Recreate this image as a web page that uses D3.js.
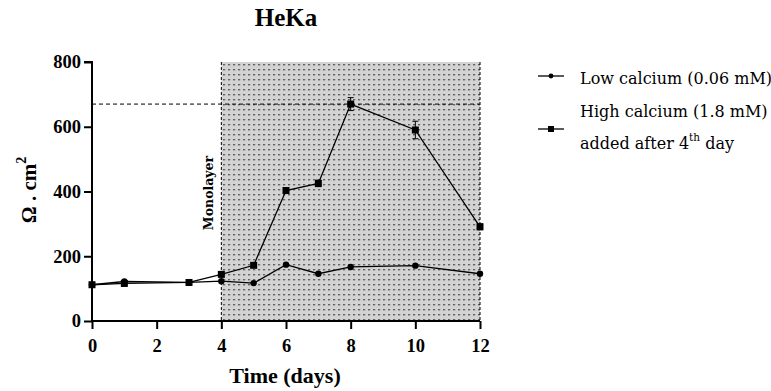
<!DOCTYPE html>
<html>
<head>
<meta charset="utf-8">
<script src="https://cdn.jsdelivr.net/npm/d3@7"></script>
<style>
  body { margin: 0; background: #fff; }
  svg { display: block; }
  text { font-family: "Liberation Serif", "DejaVu Serif", serif; }
  .wide { font-family: "DejaVu Serif", "Liberation Serif", serif; }
</style>
</head>
<body>
<svg id="chart" width="771" height="391"></svg>
<script>
// Transepithelial resistance of HeKa cells over time
const days = [0, 1, 3, 4, 5, 6, 7, 8, 10, 12];
const lowCalcium = [112, 122, 119, 123, 117, 174, 146, 167, 171, 146];
const highCalcium = [112, 116, 119, 144, 172, 403, 425, 670, 590, 291];
const highCalciumErr = [3, 4, 3, 5, 5, 6, 10, 20, 27, 9];
const xTicks = [0, 2, 4, 6, 8, 10, 12];
const yTicks = [0, 200, 400, 600, 800];
const monolayerSpan = [4, 12];
const plateau = 670;

const svg = d3.select("#chart");
const x = d3.scaleLinear().domain([0, 12]).range([92, 480]);
const y = d3.scaleLinear().domain([0, 800]).range([321, 62]);

// dotted fill for the monolayer period
const defs = svg.append("defs");
const pat = defs.append("pattern").attr("id", "dots")
  .attr("patternUnits", "userSpaceOnUse").attr("width", 5).attr("height", 5)
  .attr("x", x(4) + 2).attr("y", y(800) + 2);
pat.append("rect").attr("width", 5).attr("height", 5).attr("fill", "#d3d3d3");
pat.append("rect").attr("x", 0).attr("y", 0).attr("width", 1.4).attr("height", 1.4).attr("fill", "#222");

svg.append("rect")
  .attr("x", x(monolayerSpan[0])).attr("y", y(800))
  .attr("width", x(monolayerSpan[1]) - x(monolayerSpan[0]))
  .attr("height", y(0) - y(800))
  .attr("fill", "url(#dots)");
monolayerSpan.forEach(d => {
  svg.append("line")
    .attr("x1", x(d)).attr("x2", x(d)).attr("y1", y(800)).attr("y2", y(0))
    .attr("stroke", "#000").attr("stroke-width", 1).attr("stroke-dasharray", "3,2");
});

// plateau reference line
svg.append("line")
  .attr("x1", x(0)).attr("x2", x(12)).attr("y1", y(plateau)).attr("y2", y(plateau))
  .attr("stroke", "#000").attr("stroke-width", 1).attr("stroke-dasharray", "4,3");

svg.append("text").attr("class", "wide")
  .attr("transform", `translate(${x(4) - 8},${193}) rotate(-90)`)
  .attr("text-anchor", "middle").attr("font-size", 12.5).attr("font-weight", "bold")
  .text("Monolayer");

// axes
const xAxis = svg.append("g").attr("transform", `translate(0,${y(0)})`)
  .call(d3.axisBottom(x).tickValues(xTicks).tickSize(8).tickPadding(10).tickFormat(d3.format("d")));
const yAxis = svg.append("g").attr("transform", `translate(${x(0)},0)`)
  .call(d3.axisLeft(y).tickValues(yTicks).tickSize(8).tickPadding(3).tickFormat(d3.format("d")));
[xAxis, yAxis].forEach(g => {
  g.select(".domain").attr("stroke-width", 2);
  g.selectAll(".tick line").attr("stroke-width", 2);
  g.selectAll(".tick text").attr("font-size", 18.5).attr("font-weight", "bold")
    .attr("font-family", "Liberation Serif, serif").attr("fill", "#000");
});
yAxis.select(".domain").attr("d", `M-8,${y(800)}H0V${y(0)}`);
xAxis.select(".domain").attr("d", `M${x(0)},0H${x(12)}`);

// series
const line = d3.line().x((d, i) => x(days[i])).y(d => y(d));
svg.append("path").datum(lowCalcium).attr("d", line)
  .attr("fill", "none").attr("stroke", "#000").attr("stroke-width", 1.3);
svg.append("path").datum(highCalcium).attr("d", line)
  .attr("fill", "none").attr("stroke", "#000").attr("stroke-width", 1.3);

// error bars on high-calcium points
const eb = svg.append("g");
highCalcium.forEach((v, i) => {
  const e = highCalciumErr[i];
  const cx = x(days[i]);
  eb.append("line").attr("x1", cx).attr("x2", cx).attr("y1", y(v + e)).attr("y2", y(v - e))
    .attr("stroke", "#000").attr("stroke-width", 1);
  [v + e, v - e].forEach(w => eb.append("line")
    .attr("x1", cx - 3).attr("x2", cx + 3).attr("y1", y(w)).attr("y2", y(w))
    .attr("stroke", "#000").attr("stroke-width", 1));
});

svg.append("g").selectAll("circle").data(lowCalcium).join("circle")
  .attr("cx", (d, i) => x(days[i])).attr("cy", d => y(d)).attr("r", 3.2).attr("fill", "#000");
svg.append("g").selectAll("rect").data(highCalcium).join("rect")
  .attr("x", (d, i) => x(days[i]) - 3.5).attr("y", d => y(d) - 3.5)
  .attr("width", 7).attr("height", 7).attr("fill", "#000");

// titles
svg.append("text").attr("x", 286).attr("y", 26).attr("text-anchor", "middle")
  .attr("font-size", 25).attr("font-weight", "bold").text("HeKa");
svg.append("text").attr("x", 285).attr("y", 383).attr("text-anchor", "middle")
  .attr("font-size", 22).attr("font-weight", "bold").text("Time (days)");
const yl = svg.append("text")
  .attr("transform", `translate(36,${190}) rotate(-90)`)
  .attr("text-anchor", "middle").attr("font-size", 21).attr("font-weight", "bold");
yl.append("tspan").text("Ω . cm");
yl.append("tspan").attr("font-size", 14).attr("dy", -10).text("2");

// legend
const lg = svg.append("g").attr("class", "wide");
lg.append("line").attr("x1", 538).attr("x2", 564).attr("y1", 76).attr("y2", 76).attr("stroke", "#000").attr("stroke-width", 1.3);
lg.append("circle").attr("cx", 551).attr("cy", 76).attr("r", 2.4).attr("fill", "#000");
lg.append("text").attr("class", "wide").attr("x", 580).attr("y", 84).attr("font-size", 16).text("Low calcium (0.06 mM)");
lg.append("line").attr("x1", 538).attr("x2", 564).attr("y1", 129).attr("y2", 129).attr("stroke", "#000").attr("stroke-width", 1.3);
lg.append("rect").attr("x", 548).attr("y", 126).attr("width", 6).attr("height", 6).attr("fill", "#000");
lg.append("text").attr("class", "wide").attr("x", 580).attr("y", 117).attr("font-size", 16).text("High calcium (1.8 mM)");
const l2 = lg.append("text").attr("class", "wide").attr("x", 580).attr("y", 149).attr("font-size", 16);
l2.append("tspan").text("added after 4");
l2.append("tspan").attr("font-size", 10.5).attr("dy", -8).text("th");
l2.append("tspan").attr("dy", 8).text(" day");
</script>
</body>
</html>
